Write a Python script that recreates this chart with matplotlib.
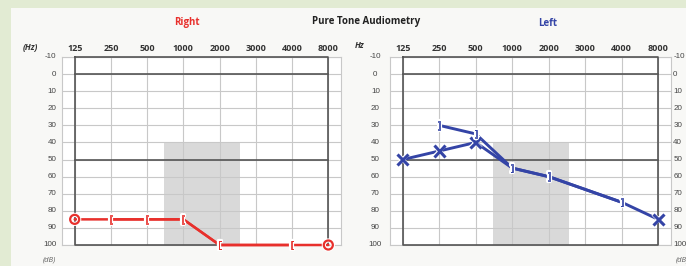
import matplotlib.pyplot as plt
import matplotlib.patheffects as pe
from matplotlib.patches import Rectangle

# 数据
freq_labels = ['125', '250', '500', '1000', '2000', '3000', '4000', '8000']
db_ticks = [-10, 0, 10, 20, 30, 40, 50, 60, 70, 80, 90, 100]

# 右耳 (红色)
right_air_freq = ['125', '250', '500', '1000', '2000', '4000', '8000']
right_air_db = [85, 85, 85, 85, 100, 100, 100]
right_bone_freq = ['250', '500', '1000', '2000', '4000']
right_bone_db = [85, 85, 85, 100, 100]

# 左耳 (蓝色)
left_air_freq = ['125', '250', '500', '1000', '2000', '4000', '8000']
left_air_db = [50, 45, 40, 55, 60, 75, 85]
left_bone_freq = ['250', '500', '1000', '2000', '4000']
left_bone_db = [30, 35, 55, 60, 75]

W, H = 686, 266
RED = '#e8302c'
BLUE = '#3444a6'
plt.rcParams['font.family'] = ['Open Sans', 'DejaVu Sans']


def fx(x):
    return x / W


def fy(y):
    return 1 - y / H


def idx(freqs):
    return [freq_labels.index(f) for f in freqs]


def draw_grid(ax):
    ax.set_xlim(-0.35, 7.35)
    ax.set_ylim(100, -10)
    ax.set_facecolor('white')
    ax.set_xticks([])
    ax.set_yticks([])
    for s in ax.spines.values():
        s.set_color('#c8c8c8')
        s.set_linewidth(0.8)
        s.set_zorder(0.8)
    for i in range(8):
        ax.axvline(i, color='#c8c8c8', lw=0.8, zorder=1)
    for d in db_ticks:
        ax.axhline(d, color='#c8c8c8', lw=0.8, zorder=1)
    # 灰色区域
    ax.add_patch(Rectangle((2.47, 40), 2.08, 60, color='#d9d9d9', lw=0, zorder=0.5))
    # 粗框
    ax.plot([0, 7, 7, 0, 0], [-10, -10, 100, 100, -10], color='#555555', lw=1.2,
            zorder=2.6, clip_on=False)
    for d in (0, 50):
        ax.plot([0, 7], [d, d], color='#555555', lw=1.2, zorder=2)


def draw_series(ax, freqs, dbs, color, marker, ms, mew, lw, mark_idx=None):
    xs = idx(freqs)
    ax.plot(xs, dbs, color=color, lw=lw, zorder=3, clip_on=False,
            solid_capstyle='round')
    if mark_idx is None:
        mark_idx = range(len(xs))
    mx = [xs[i] for i in mark_idx]
    my = [dbs[i] for i in mark_idx]
    ax.plot(mx, my, ls='none', marker=marker, ms=ms, mew=mew, color=color,
            mfc='none', zorder=4, clip_on=False,
            path_effects=[pe.withStroke(linewidth=3, foreground='white')])


fig = plt.figure(figsize=(W / 100, H / 100), dpi=100)
fig.patch.set_facecolor('#e2ebd3')
fig.patches.append(Rectangle((fx(11), fy(266)), fx(686) - fx(11), fy(8) - fy(266),
                             transform=fig.transFigure, color='#f8f8f6', lw=0,
                             zorder=-5))
ax_r = fig.add_axes([fx(62), fy(245), fx(341) - fx(62), fy(57) - fy(245)])
ax_l = fig.add_axes([fx(390), fy(245), fx(671) - fx(390), fy(57) - fy(245)])
draw_grid(ax_r)
draw_grid(ax_l)

# 右耳
draw_series(ax_r, right_air_freq, right_air_db, RED, 'o', 6.5, 1.6, 1.8, mark_idx=[0, 6])
draw_series(ax_r, right_bone_freq, right_bone_db, RED, '$[$', 6, 0.6, 1.8)
# 左耳
draw_series(ax_l, left_air_freq, left_air_db, BLUE, 'x', 8, 2.2, 2.1, mark_idx=[0, 1, 2, 6])
draw_series(ax_l, left_bone_freq, left_bone_db, BLUE, '$]$', 6, 0.6, 2.1)

# 频率标签
for ax in (ax_r, ax_l):
    for i, lab in enumerate(freq_labels):
        ax.text(i, -12.5, lab, ha='center', va='bottom', fontsize=6.5,
                fontweight='bold', color='#333333', clip_on=False)

# 纵轴标签
for d in db_ticks:
    ax_r.text(-0.5, d, str(d), ha='right', va='center', fontsize=5.8,
              color='#444444', clip_on=False, family='Liberation Sans')
    ax_l.text(-0.75, d, str(d), ha='center', va='center', fontsize=5.8,
              color='#444444', clip_on=False, family='Liberation Sans')
    ax_l.text(7.41, d, str(d), ha='left', va='center', fontsize=5.8,
              color='#444444', clip_on=False, family='Liberation Sans')

# 标题
fig.text(fx(187), fy(23), 'Right', ha='center', va='center', fontsize=7,
         fontweight='bold', color=RED)
fig.text(fx(366), fy(22), 'Pure Tone Audiometry', ha='center', va='center',
         fontsize=7, fontweight='bold', color='#222222')
fig.text(fx(548), fy(23), 'Left', ha='center', va='center', fontsize=7,
         fontweight='bold', color=BLUE)
fig.text(fx(30), fy(47), '(Hz)', ha='center', va='center', fontsize=6,
         fontweight='bold', style='italic', color='#333333')
fig.text(fx(360), fy(46), 'Hz', ha='center', va='center', fontsize=6,
         fontweight='bold', style='italic', color='#333333')
fig.text(fx(49), fy(260), '(dB)', ha='center', va='center', fontsize=5.5,
         style='italic', color='#666666')
fig.text(fx(676), fy(260), '(dB)', ha='left', va='center', fontsize=5.5,
         style='italic', color='#666666')

fig.savefig('out.png', dpi=100, facecolor=fig.get_facecolor())
